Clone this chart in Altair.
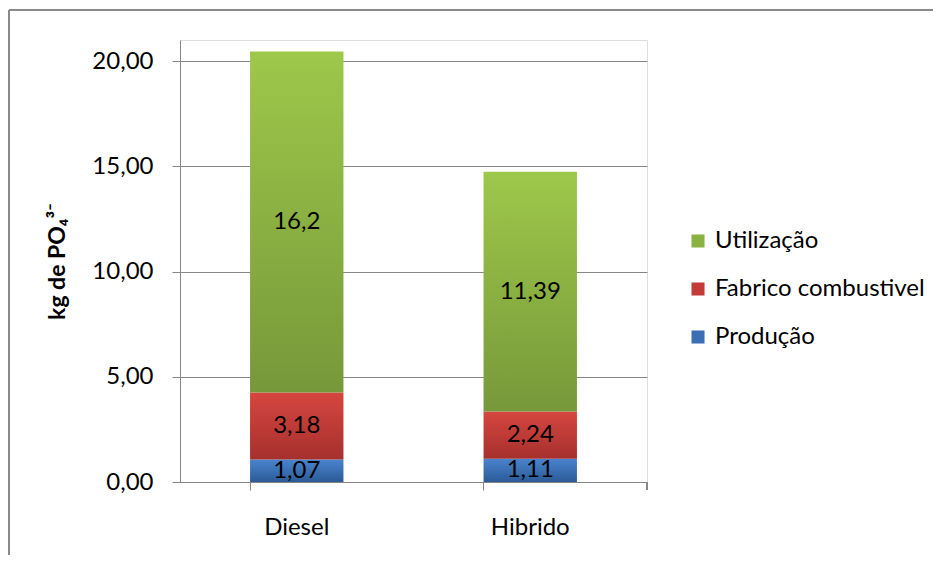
import altair as alt
import pandas as pd

categories = ["Diesel", "Hibrido"]
series = ["Produção", "Fabrico combustivel", "Utilização"]
producao = [1.07, 1.11]
fabrico = [3.18, 2.24]
utilizacao = [16.2, 11.39]
y_ticks = [0, 5, 10, 15, 20]

grad_top = {"Produção": "#4A84CE", "Fabrico combustivel": "#D6463F", "Utilização": "#9DC84A"}
grad_bot = {"Produção": "#2B5B97", "Fabrico combustivel": "#A6302E", "Utilização": "#77983A"}
legend_col = {"Produção": "#3A6FB5", "Fabrico combustivel": "#C23B38", "Utilização": "#8AB242"}

rows = []
vals = {"Produção": producao, "Fabrico combustivel": fabrico, "Utilização": utilizacao}
for si, s in enumerate(series):
    for ci, c in enumerate(categories):
        rows.append({"cat": c, "serie": s, "ord": si, "value": vals[s][ci]})
df = pd.DataFrame(rows)

FONT = "Lato"
FS = 24
W, H = 467, 442

base = alt.Chart(df).transform_stack(
    stack="value", groupby=["cat"], as_=["y0", "y1"], sort=[alt.SortField("ord", order="ascending")]
).transform_calculate(
    mid="(datum.y0 + datum.y1) / 2",
    lbl="replace(toString(datum.value), '.', ',')",
)

xenc = alt.X("cat:N", sort=categories, title=None,
             scale=alt.Scale(paddingInner=0.6, paddingOuter=0.3),
             axis=alt.Axis(labelAngle=0, labelFontSize=FS, labelFont=FONT, labelColor="#000",
                           labelPadding=25, tickSize=8, bandPosition=0, ticks=True,
                           domainColor="#868686", tickColor="#868686", grid=False))
yscale = alt.Scale(domain=[0, 21], nice=False)

layers = []
for s in series:
    g = alt.Gradient(gradient="linear", x1=0, x2=0, y1=0, y2=1,
                     stops=[alt.GradientStop(color=grad_top[s], offset=0),
                            alt.GradientStop(color=grad_bot[s], offset=1)])
    layers.append(
        base.transform_filter(alt.datum.serie == s).mark_bar(fill=g).encode(
            x=xenc,
            y=alt.Y("y0:Q", scale=yscale, title="kg de PO₄³⁻",
                    axis=alt.Axis(values=y_ticks, labelExpr="replace(format(datum.value, '.2f'), '.', ',')",
                                  labelFontSize=FS, labelFont=FONT, labelColor="#000", labelPadding=19,
                                  tickSize=8, tickColor="#868686", domainColor="#868686",
                                  gridColor="#868686", titleFont=FONT, titleFontSize=23,
                                  titleFontWeight="bold", titleColor="#000", titlePadding=22)),
            y2="y1:Q",
        )
    )

legend_layer = base.mark_square(opacity=0, size=1).encode(
    x=alt.X("cat:N", sort=categories),
    y=alt.Y("y0:Q", scale=yscale),
    color=alt.Color("serie:N",
                    scale=alt.Scale(domain=series[::-1], range=[legend_col[s] for s in series[::-1]]),
                    legend=alt.Legend(title=None, orient="none", legendX=506, legendY=189,
                                      symbolType="square", symbolSize=170, symbolOpacity=1,
                                      symbolStrokeWidth=0, labelFontSize=FS, labelFont=FONT,
                                      labelColor="#000", rowPadding=24, labelOffset=5,
                                      labelLimit=400)),
)

text = base.mark_text(fontSize=FS, font=FONT, color="#000").encode(
    x=alt.X("cat:N", sort=categories),
    y=alt.Y("mid:Q", scale=yscale),
    text="lbl:N",
)

end_tick = alt.Chart(df).mark_rule(color="#868686").encode(
    x=alt.value(W), y=alt.value(H), y2=alt.value(H + 8))
frame_top = alt.Chart(df).mark_rule(color="#8a8a8a", strokeWidth=2).encode(
    x=alt.value(-171), x2=alt.value(800), y=alt.value(-30))
frame_left = alt.Chart(df).mark_rule(color="#8a8a8a", strokeWidth=2).encode(
    x=alt.value(-171), y=alt.value(-30), y2=alt.value(600))

chart = alt.layer(*layers, legend_layer, text, end_tick, frame_top, frame_left).properties(
    width=W, height=H,
    autosize=alt.AutoSizeParams(type="none"),
    padding={"left": 172, "top": 32, "right": 286, "bottom": 73},
).configure_view(stroke=None).configure(background="white")

chart.save("out.html", embed_options={"renderer": "svg", "actions": False})
